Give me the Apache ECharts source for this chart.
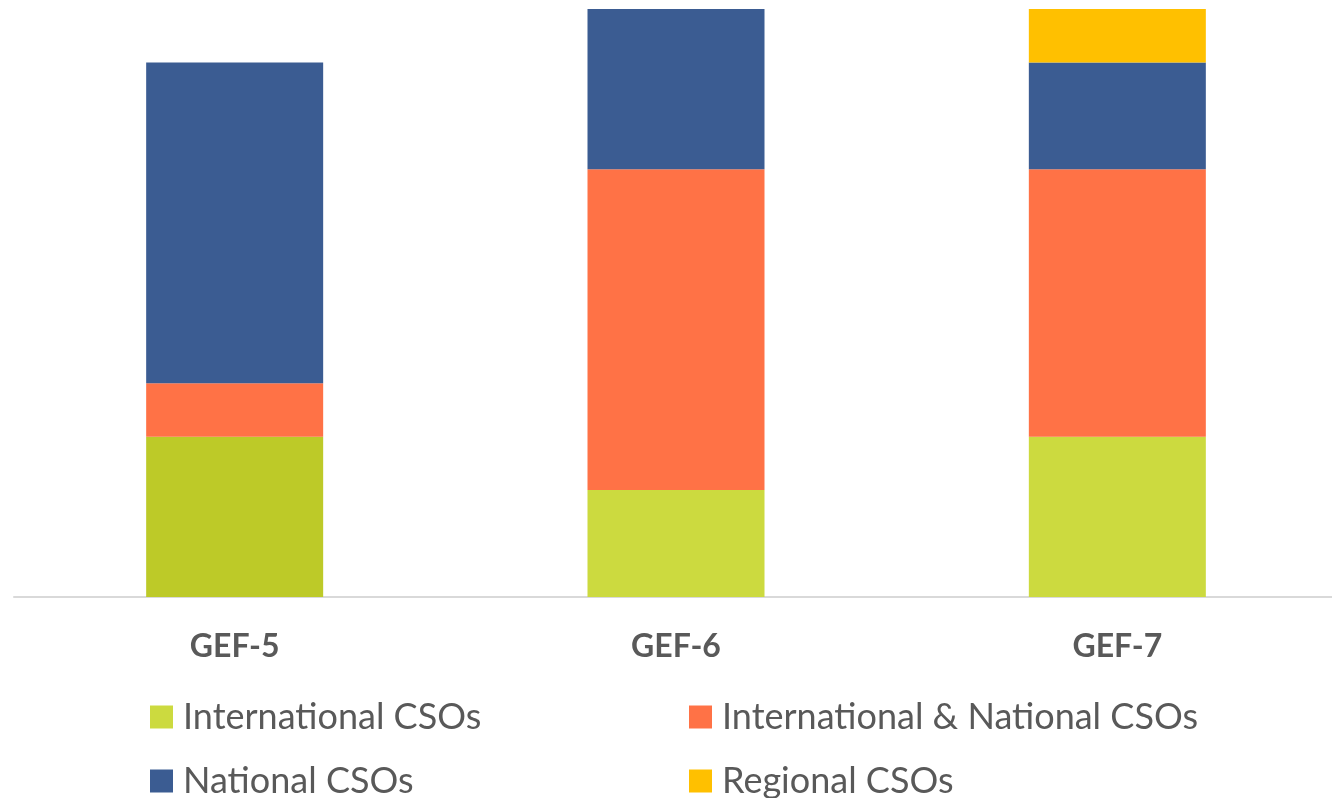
<!DOCTYPE html>
<html>
<head>
<meta charset="utf-8">
<script src="https://cdn.jsdelivr.net/npm/echarts@6/dist/echarts.min.js"></script>
<style>
  html, body { margin: 0; padding: 0; background: #fff; }
  #chart { width: 1332px; height: 798px; }
</style>
</head>
<body>
<div id="chart"></div>
<script>
// data
var categories = ['GEF-5', 'GEF-6', 'GEF-7'];
var internationalCSOs = [3, 2, 3];
var intlNationalCSOs = [1, 6, 5];
var nationalCSOs = [6, 3, 2];
var regionalCSOs = [0, 0, 1];

var chart = echarts.init(document.getElementById('chart'));

// GEF-5 green bar is a touch darker in the original
var greenData = internationalCSOs.map(function (v, i) {
  return i == 0 ? { value: v, itemStyle: { color: '#BDCA28' } } : v;
});

// one legend per entry so they sit in a 2x2 grid
function legendItem(name, left, top) {
  return {
    left: left,
    top: top,
    padding: 0,
    itemWidth: 23,
    itemHeight: 23,
    icon: 'rect',
    textStyle: {
      fontFamily: 'Lato',
      fontSize: 36,
      lineHeight: 36,
      color: '#595959',
      padding: [0, 0, 0, 5]
    },
    data: [name]
  };
}

var option = {
  animation: false,
  grid: { left: 14, width: 1324, top: 9, bottom: 201, outerBoundsMode: 'none' },
  xAxis: {
    type: 'category',
    data: categories,
    axisLine: { lineStyle: { color: '#D9D9D9', width: 2 } },
    axisTick: { show: false },
    axisLabel: {
      margin: 34,
      fontFamily: 'Lato',
      fontWeight: 'bold',
      fontSize: 32,
      color: '#595959'
    }
  },
  yAxis: {
    type: 'value',
    min: 0,
    max: 11,
    show: false
  },
  legend: [
    legendItem('International CSOs', 150, 699),
    legendItem('International & National CSOs', 689, 699),
    legendItem('National CSOs', 150, 763),
    legendItem('Regional CSOs', 689, 763)
  ],
  series: [
    {
      name: 'International CSOs',
      type: 'bar',
      stack: 'total',
      barWidth: 177,
      itemStyle: { color: '#CCDA3F' },
      data: greenData
    },
    {
      name: 'International & National CSOs',
      type: 'bar',
      stack: 'total',
      barWidth: 177,
      itemStyle: { color: '#FF7246' },
      data: intlNationalCSOs
    },
    {
      name: 'National CSOs',
      type: 'bar',
      stack: 'total',
      barWidth: 177,
      itemStyle: { color: '#3B5C92' },
      data: nationalCSOs
    },
    {
      name: 'Regional CSOs',
      type: 'bar',
      stack: 'total',
      barWidth: 177,
      itemStyle: { color: '#FFC000' },
      data: regionalCSOs
    }
  ]
};

chart.setOption(option);
</script>
</body>
</html>
